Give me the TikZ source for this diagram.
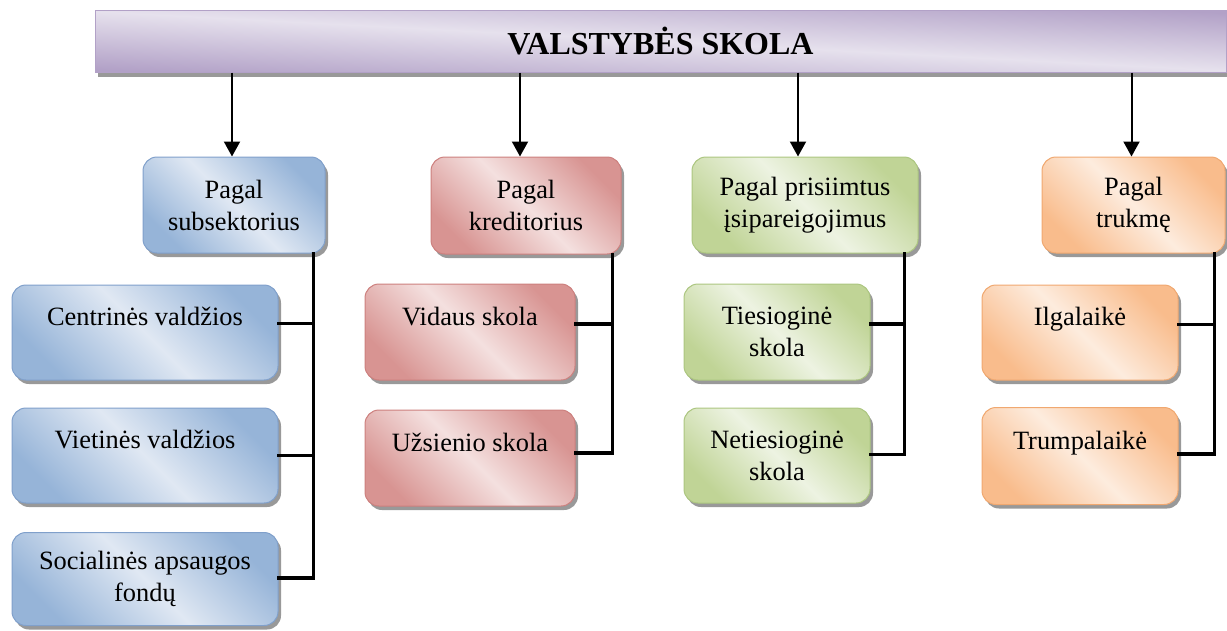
\documentclass[tikz,border=0pt]{standalone}
\usepackage{fontspec}
\setmainfont{Liberation Serif}
\newfontfamily\boxfont{Liberation Serif}
\usetikzlibrary{arrows.meta,shadows,calc}
\definecolor{bDark}{RGB}{150,180,216}
\definecolor{bLight}{RGB}{224,232,243}
\definecolor{bLine}{RGB}{128,160,203}
\definecolor{rDark}{RGB}{216,148,146}
\definecolor{rLight}{RGB}{244,224,223}
\definecolor{rLine}{RGB}{205,128,126}
\definecolor{gDark}{RGB}{192,212,150}
\definecolor{gLight}{RGB}{237,243,226}
\definecolor{gLine}{RGB}{172,198,128}
\definecolor{oDark}{RGB}{249,188,140}
\definecolor{oLight}{RGB}{253,236,222}
\definecolor{oLine}{RGB}{240,168,112}
\definecolor{pDark}{RGB}{178,161,199}
\definecolor{pLight}{RGB}{230,225,237}
\definecolor{pLine}{RGB}{178,161,199}
\tikzset{
  box/.style={rectangle, rounded corners=14pt, line width=1pt, align=center,
    inner sep=0pt, font=\boxfont\fontsize{26.4}{32}\selectfont, text=black,
    drop shadow={shadow xshift=3pt, shadow yshift=-4pt, fill=black!40, opacity=1, rounded corners=14pt}},
  bluebox/.style={box, draw=bLine, top color=bDark, bottom color=bDark, middle color=bLight, shading angle=-45},
  redbox/.style={box, draw=rLine, top color=rDark, bottom color=rDark, middle color=rLight, shading angle=-45},
  greenbox/.style={box, draw=gLine, top color=gDark, bottom color=gDark, middle color=gLight, shading angle=-45},
  orangebox/.style={box, draw=oLine, top color=oDark, bottom color=oDark, middle color=oLight, shading angle=-45},
  banner/.style={rectangle, line width=1pt, draw=pLine,
    top color=pDark, bottom color=pDark, middle color=pLight, shading angle=-3,
    drop shadow={shadow xshift=3pt, shadow yshift=-5pt, fill=black!40, opacity=1},
    font=\boxfont\fontsize{32}{38}\selectfont\bfseries},
  arr/.style={line width=2pt, -{Triangle[width=16pt,length=15pt]}},
  conn/.style={line width=3.5pt, line join=miter, line cap=rect},
}
\begin{document}
\begin{tikzpicture}[x=1pt,y=-1pt]
\useasboundingbox (0,0) rectangle (1227,630);
% banner
\node[banner, minimum width=1131pt, minimum height=62pt] (top) at (660.5,41) {VALSTYBĖS SKOLA};
% parents
\node[bluebox, minimum width=182pt, minimum height=96pt] (p1) at (234,205) {Pagal\\subsektorius};
\node[redbox, minimum width=190pt, minimum height=97pt] (p2) at (526,205.5) {Pagal\\kreditorius};
\node[greenbox, minimum width=226pt, minimum height=96pt] (p3) at (805,205) {Pagal prisiimtus\\įsipareigojimus};
\node[orangebox, minimum width=183pt, minimum height=96pt] (p4) at (1133.5,205) {Pagal\\trukmę};
% children blue
\node[bluebox, minimum width=266pt, minimum height=95pt] (b1) at (145,332.5) {Centrinės valdžios\\\phantom{X}};
\node[bluebox, minimum width=266pt, minimum height=95pt] (b2) at (145,455.5) {Vietinės valdžios\\\phantom{X}};
\node[bluebox, minimum width=266pt, minimum height=93pt] (b3) at (145,579) {Socialinės apsaugos\\fondų};
% children red
\node[redbox, minimum width=210pt, minimum height=96pt] (r1) at (470,332) {Vidaus skola\\\phantom{X}};
\node[redbox, minimum width=210pt, minimum height=96pt] (r2) at (470,458) {Užsienio skola\\\phantom{X}};
% children green
\node[greenbox, minimum width=186pt, minimum height=96pt] (g1) at (777,332) {Tiesioginė\\skola};
\node[greenbox, minimum width=186pt, minimum height=95pt] (g2) at (777,455.5) {Netiesioginė\\skola};
% children orange
\node[orangebox, minimum width=196pt, minimum height=95pt] (o1) at (1080,332.5) {Ilgalaikė\\\phantom{X}};
\node[orangebox, minimum width=196pt, minimum height=97pt] (o2) at (1080,456) {Trumpalaikė\\\phantom{X}};
% arrows
\draw[arr] (top.south -| {$(p1.north)+(-2,0)$}) -- ($(p1.north)+(-2,0)$);
\draw[arr] (top.south -| {$(p2.north)+(-6,0)$}) -- ($(p2.north)+(-6,0)$);
\draw[arr] (top.south -| {$(p3.north)+(-7,0)$}) -- ($(p3.north)+(-7,0)$);
\draw[arr] (top.south -| {$(p4.north)+(-2,0)$}) -- ($(p4.north)+(-2,0)$);
% connectors blue
\draw[conn] ([xshift=-12pt]p1.south east) |- ([yshift=1pt]b3.east);
\draw[conn] ([yshift=9pt]b1.east) -| ([xshift=-12pt]p1.south east);
\draw[conn] (b2.east) -| ([xshift=-12pt]p1.south east);
% connectors red
\draw[conn] ([xshift=-9pt]p2.south east) |- ([yshift=5pt]r2.east);
\draw[conn] ([yshift=8pt]r1.east) -| ([xshift=-9pt]p2.south east);
% connectors green
\draw[conn] ([xshift=-14pt]p3.south east) |- ([yshift=1pt]g2.east);
\draw[conn] ([yshift=8pt]g1.east) -| ([xshift=-14pt]p3.south east);
% connectors orange
\draw[conn] ([xshift=-11pt]p4.south east) |- ([yshift=2pt]o2.east);
\draw[conn] ([yshift=8pt]o1.east) -| ([xshift=-11pt]p4.south east);
\end{tikzpicture}
\end{document}
